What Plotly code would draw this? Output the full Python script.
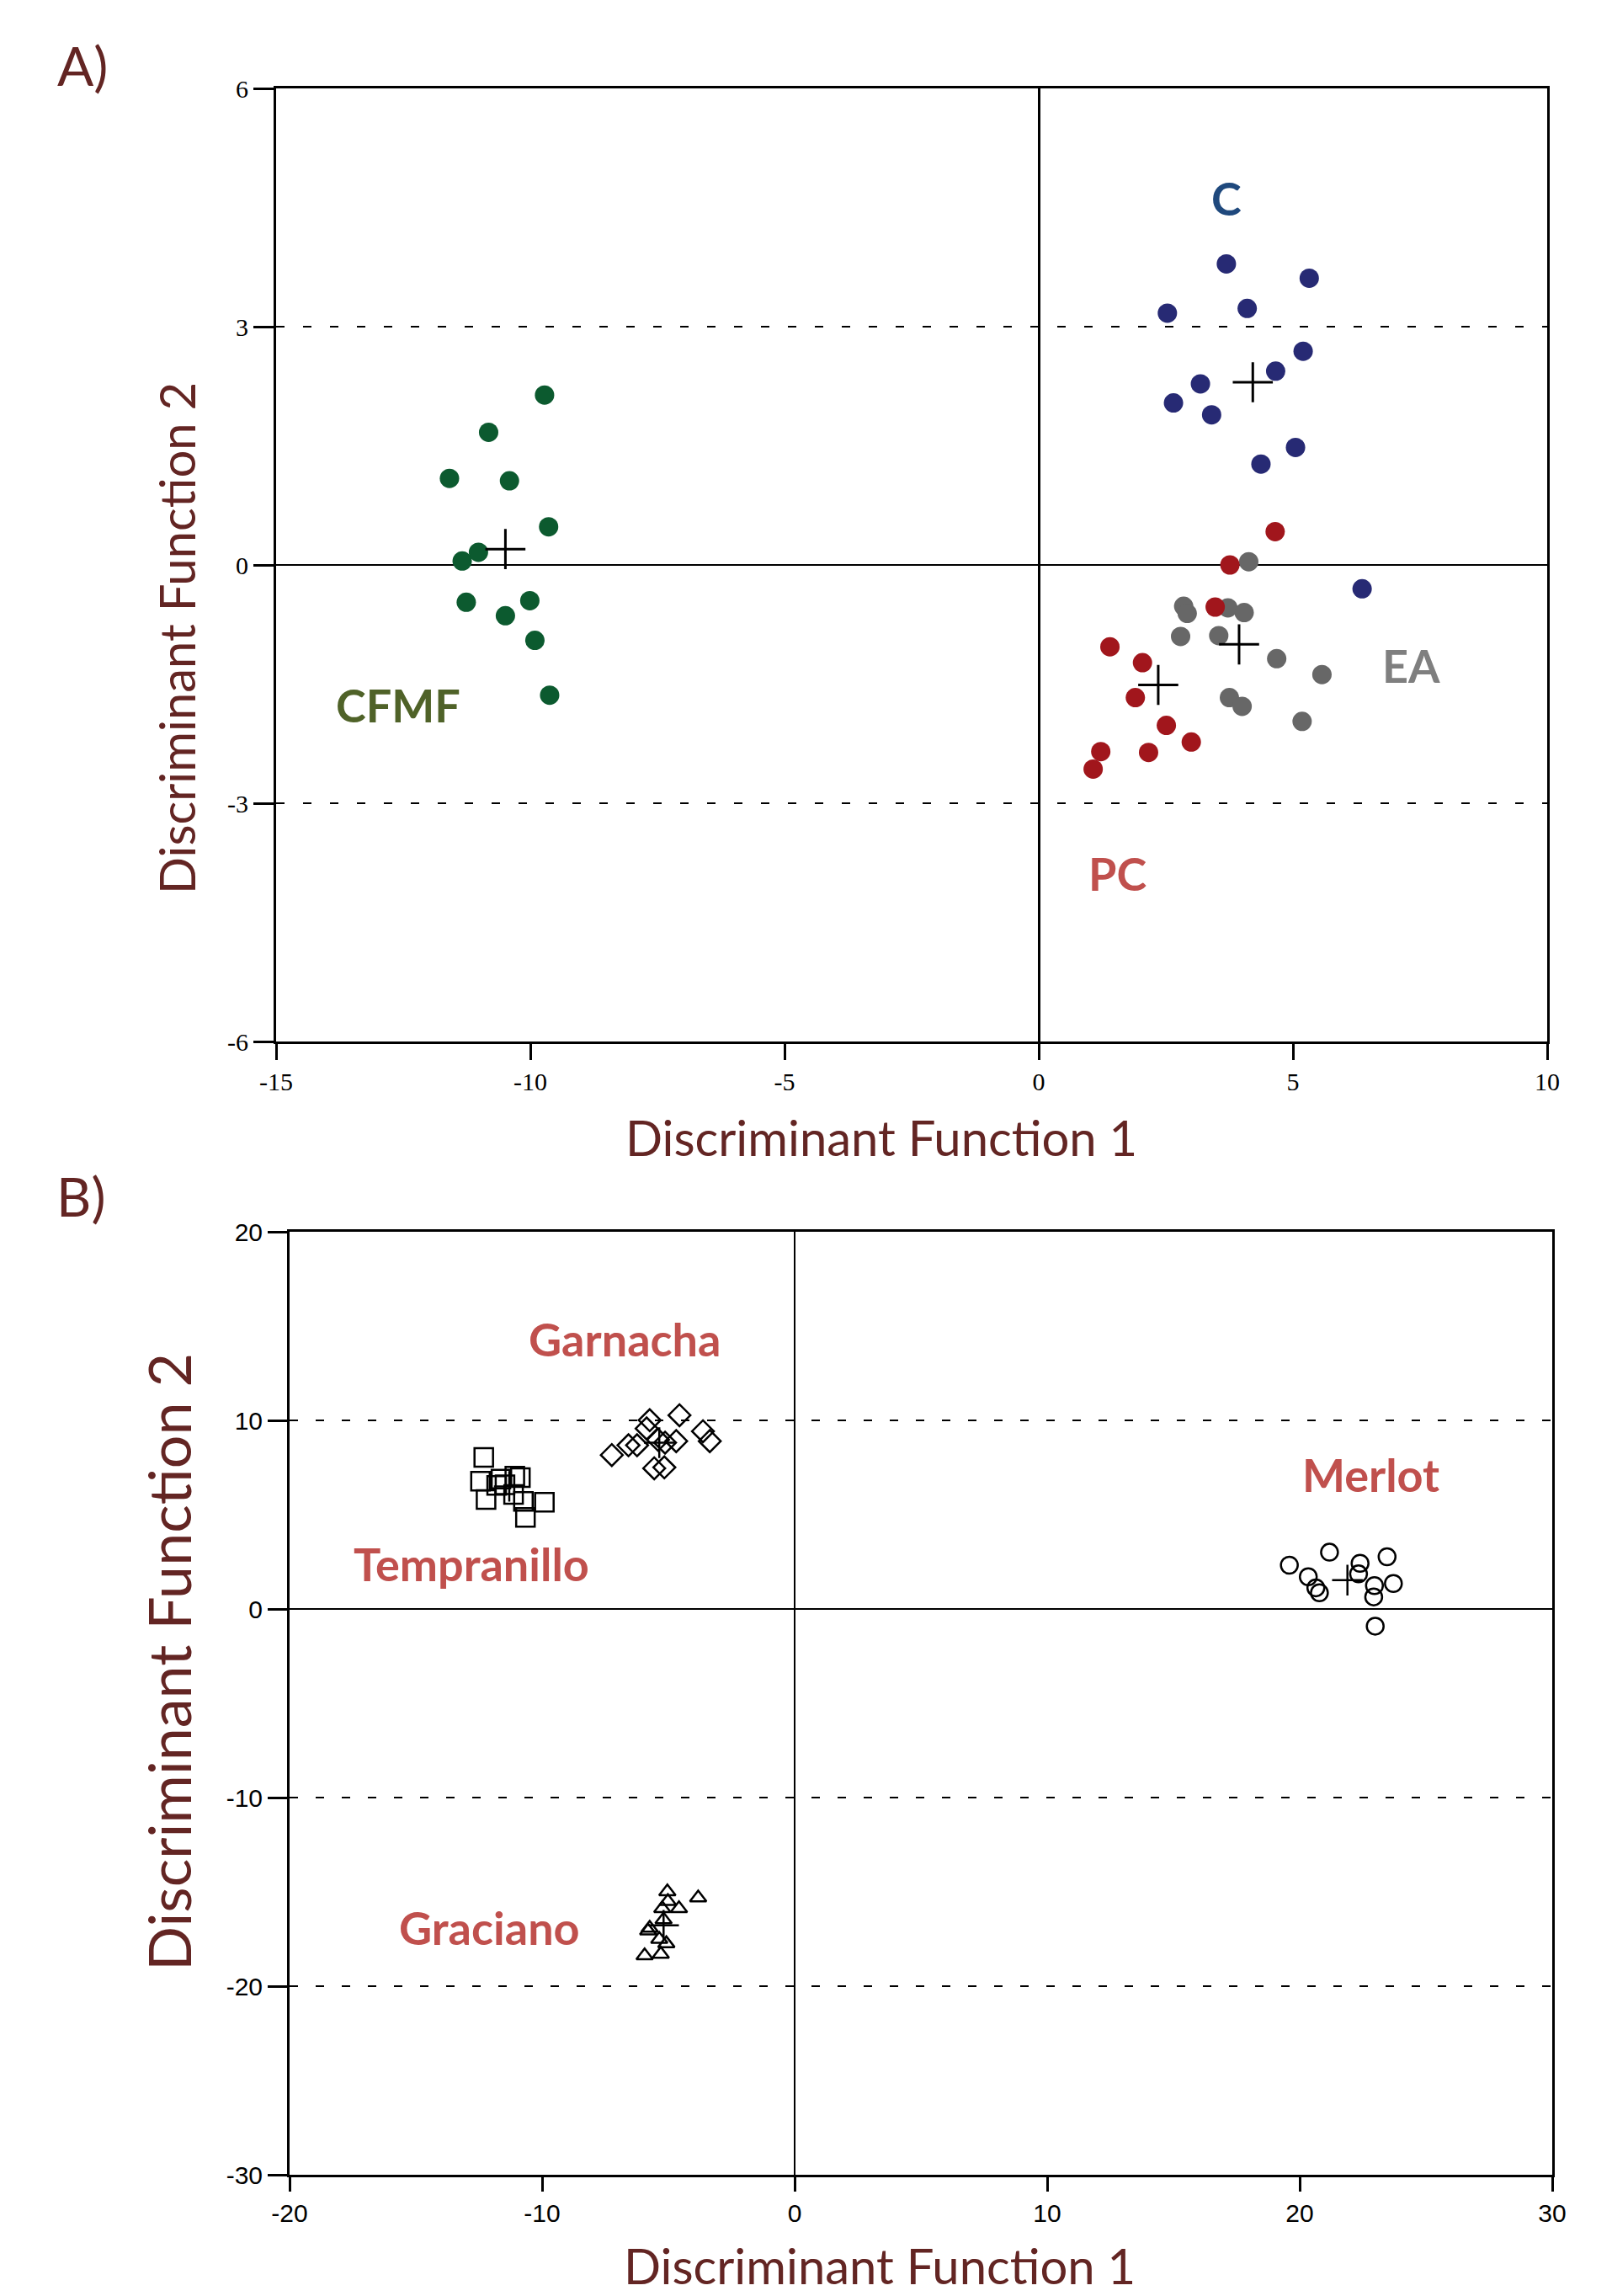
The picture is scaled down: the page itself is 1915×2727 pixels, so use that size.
import plotly.graph_objects as go

W, H = 1915, 2727

# ---------------- Panel A data ----------------
cfmf_x = [-9.72, -10.82, -11.59, -10.41, -9.64, -11.02, -11.34, -11.26, -10.01, -10.49, -9.91, -9.62]
cfmf_y = [2.14, 1.67, 1.09, 1.06, 0.48, 0.16, 0.05, -0.47, -0.45, -0.64, -0.95, -1.64]
c_x = [3.69, 5.32, 2.53, 4.10, 5.20, 4.66, 3.18, 2.65, 3.40, 5.05, 4.37, 6.36]
c_y = [3.79, 3.61, 3.17, 3.23, 2.69, 2.44, 2.28, 2.04, 1.89, 1.48, 1.27, -0.30]
ea_x = [4.13, 2.85, 2.92, 3.72, 4.04, 2.79, 3.54, 4.68, 5.57, 3.75, 4.00, 5.18]
ea_y = [0.04, -0.52, -0.61, -0.54, -0.60, -0.90, -0.89, -1.18, -1.38, -1.67, -1.78, -1.97]
pc_x = [4.65, 3.76, 3.47, 1.40, 2.04, 1.90, 2.51, 3.00, 1.22, 2.16, 1.07]
pc_y = [0.42, 0.00, -0.53, -1.03, -1.23, -1.67, -2.02, -2.23, -2.35, -2.36, -2.57]
centA_x = [-10.49, 4.21, 3.94, 2.35]
centA_y = [0.20, 2.30, -1.00, -1.51]

labelsA = ["C", "EA", "PC", "CFMF"]
labelsA_x = [3.69, 7.32, 1.54, -12.6]
labelsA_y = [4.62, -1.27, -3.88, -1.77]
labelsA_col = ["#1F497D", "#7F7F7F", "#C0504D", "#4F6228"]

ticksA_x = [-15, -10, -5, 0, 5, 10]
ticksA_y = [-6, -3, 0, 3, 6]

# ---------------- Panel B data ----------------
temp_x = [-12.31, -12.44, -12.22, -11.80, -11.63, -11.47, -11.08, -10.86, -11.13, -10.74, -9.91, -10.66]
temp_y = [8.04, 6.77, 5.80, 6.55, 6.89, 6.59, 7.04, 6.96, 6.07, 5.70, 5.66, 4.85]
garn_x = [-7.24, -6.58, -6.24, -5.74, -5.86, -5.41, -5.13, -4.69, -4.56, -3.63, -3.36, -5.56, -5.16]
garn_y = [8.16, 8.68, 8.68, 10.01, 9.57, 8.97, 8.82, 8.90, 10.27, 9.42, 8.90, 7.46, 7.51]
merl_x = [19.59, 21.18, 20.34, 20.64, 20.78, 22.39, 22.33, 23.46, 22.96, 23.71, 22.93, 22.99]
merl_y = [2.32, 3.01, 1.71, 1.12, 0.86, 2.42, 1.86, 2.77, 1.24, 1.35, 0.64, -0.91]
grac_x = [-5.04, -3.82, -5.02, -5.24, -4.58, -5.19, -5.74, -5.80, -5.36, -5.08, -5.30, -5.94]
grac_y = [-14.99, -15.31, -15.50, -15.88, -15.88, -16.47, -16.92, -17.07, -17.51, -17.74, -18.30, -18.38]
centB_x = [-11.3, -5.36, 21.89, -5.19]
centB_y = [6.5, 8.82, 1.53, -16.77]

labelsB = ["Garnacha", "Tempranillo", "Merlot", "Graciano"]
labelsB_x = [-6.73, -12.8, 22.8, -12.1]
labelsB_y = [14.33, 2.4, 7.1, -16.9]

ticksB_x = [-20, -10, 0, 10, 20, 30]
ticksB_y = [-30, -20, -10, 0, 10, 20]

TITLE_COL = "#632523"
TITLE_FONT = "Lato"

fig = go.Figure()

def filled(x, y, col, xa, ya):
    fig.add_trace(go.Scatter(x=x, y=y, mode="markers", xaxis=xa, yaxis=ya,
                             marker=dict(symbol="circle", size=23, color=col, line=dict(width=0)),
                             showlegend=False, hoverinfo="x+y"))

filled(cfmf_x, cfmf_y, "#0C5A2F", "x", "y")
filled(c_x, c_y, "#272A74", "x", "y")
filled(ea_x, ea_y, "#676767", "x", "y")
filled(pc_x, pc_y, "#A1161C", "x", "y")
fig.add_trace(go.Scatter(x=centA_x, y=centA_y, mode="markers", xaxis="x", yaxis="y",
                         marker=dict(symbol="cross-thin-open", size=34, color="black",
                                     line=dict(width=3, color="black")),
                         showlegend=False))

def openm(x, y, sym, size, xa, ya):
    fig.add_trace(go.Scatter(x=x, y=y, mode="markers", xaxis=xa, yaxis=ya,
                             marker=dict(symbol=sym, size=size, color="black",
                                         line=dict(width=2.5, color="black")),
                             showlegend=False))

openm(temp_x, temp_y, "square-open", 22, "x2", "y2")
openm(garn_x, garn_y, "diamond-open", 20, "x2", "y2")
openm(merl_x, merl_y, "circle-open", 20, "x2", "y2")
openm(grac_x, grac_y, "triangle-up-open", 17, "x2", "y2")
fig.add_trace(go.Scatter(x=centB_x, y=centB_y, mode="markers", xaxis="x2", yaxis="y2",
                         marker=dict(symbol="cross-thin-open", size=26, color="black",
                                     line=dict(width=2.5, color="black")),
                         showlegend=False))

def px(X):
    return X / W

def py(Y):
    return 1 - Y / H

axis_common = dict(showline=True, mirror=True, linecolor="black", linewidth=3,
                   ticks="outside", tickcolor="black", tickwidth=3, automargin=False,
                   zeroline=True, zerolinecolor="black")

def tt(vals):
    return [str(v) for v in vals]

fig.update_layout(
    template="none",
    width=W, height=H, margin=dict(l=0, r=0, t=0, b=0, pad=0, autoexpand=False),
    paper_bgcolor="white", plot_bgcolor="white", showlegend=False,
    xaxis=dict(domain=[px(328), px(1838)], range=[-15, 10], anchor="y",
               tickvals=ticksA_x, ticktext=tt(ticksA_x), ticklen=19, showgrid=False, zerolinewidth=3,
               tickfont=dict(family="Liberation Serif", size=30, color="black"), **axis_common),
    yaxis=dict(domain=[py(1237), py(105)], range=[-6, 6], anchor="x",
               tickvals=ticksA_y, ticktext=tt(ticksA_y), ticklen=24, showgrid=True, gridcolor="black",
               gridwidth=2, griddash="10px,22px", zerolinewidth=2,
               tickfont=dict(family="Liberation Serif", size=30, color="black"), **axis_common),
    xaxis2=dict(domain=[px(344), px(1844)], range=[-20, 30], anchor="y2",
                tickvals=ticksB_x, ticktext=tt(ticksB_x), ticklen=17, showgrid=False, zerolinewidth=2,
                tickfont=dict(family="Liberation Sans", size=30, color="black"), **axis_common),
    yaxis2=dict(domain=[py(2583), py(1463)], range=[-30, 20], anchor="x2",
                tickvals=ticksB_y, ticktext=tt(ticksB_y), ticklen=23, showgrid=True, gridcolor="black",
                gridwidth=2, griddash="10px,21px", zerolinewidth=2,
                tickfont=dict(family="Liberation Sans", size=30, color="black"), **axis_common),
)

ann = []

def paper_text(text, X, Y, size, angle=0):
    ann.append(dict(text=text, x=px(X), y=py(Y), xref="paper", yref="paper", showarrow=False,
                    xanchor="center", yanchor="middle", textangle=angle,
                    font=dict(family=TITLE_FONT, size=size, color=TITLE_COL)))

paper_text("A)", 98, 77, 64)
paper_text("B)", 96, 1421, 64)
paper_text("Discriminant Function 1", 1047, 1350, 58)
paper_text("Discriminant Function 2", 209, 758, 58, -90)
paper_text("Discriminant Function 1", 1045, 2690, 58)
paper_text("Discriminant Function 2", 200, 1974, 70, -90)

for t, x, y, c in zip(labelsA, labelsA_x, labelsA_y, labelsA_col):
    ann.append(dict(text="<b>%s</b>" % t, x=x, y=y, xref="x", yref="y", showarrow=False,
                    xanchor="center", yanchor="middle",
                    font=dict(family=TITLE_FONT, size=54, color=c)))
for t, x, y in zip(labelsB, labelsB_x, labelsB_y):
    ann.append(dict(text="<b>%s</b>" % t, x=x, y=y, xref="x2", yref="y2", showarrow=False,
                    xanchor="center", yanchor="middle",
                    font=dict(family=TITLE_FONT, size=54, color="#C0504D")))

fig.update_layout(annotations=ann)

fig.write_html("out.html", config={"displayModeBar": False},
               post_script="document.body.style.margin='0';document.body.style.overflow='hidden';")
